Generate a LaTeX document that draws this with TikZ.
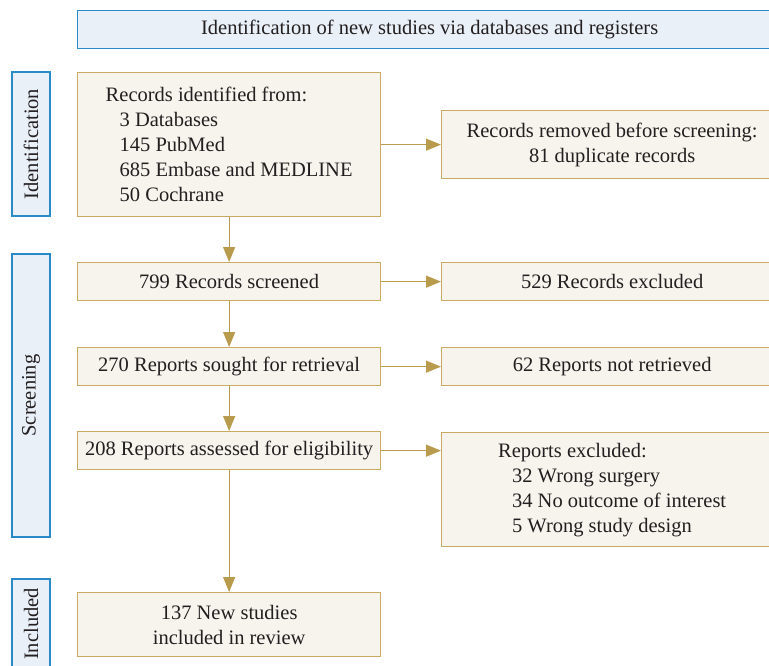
\documentclass[tikz,border=0pt]{standalone}
\usepackage{fontspec}
\setmainfont{Liberation Serif}
\usetikzlibrary{arrows.meta}
\definecolor{blueline}{HTML}{2A8AC8}
\definecolor{bluefill}{HTML}{E9F0F8}
\definecolor{goldline}{HTML}{C9AA62}
\definecolor{goldfill}{HTML}{F7F4EE}
\definecolor{arrowcol}{HTML}{B89B4C}
\definecolor{textcol}{HTML}{231F20}
\tikzset{
  stagebox/.style={draw=blueline, fill=bluefill, line width=1.3pt, inner sep=0pt, text=textcol, font=\fontsize{20.5}{24}\selectfont},
  stagetext/.style={inner sep=0pt, text=textcol, font=\fontsize{20.5}{24}\selectfont},
  flowbox/.style={draw=goldline, fill=goldfill, line width=1.3pt, inner sep=0pt, text=textcol, font=\fontsize{20.5}{25}\selectfont, align=center},
  flowarrow/.style={draw=arrowcol, line width=1.3pt, -{Triangle[length=15pt,width=12pt]}},
}
\begin{document}
\begin{tikzpicture}[x=1pt,y=-1pt]
\useasboundingbox (0,0) rectangle (769,666);
\clip (0,0) rectangle (769,666);
% header
\node[stagebox, minimum width=704, minimum height=38, anchor=north west] (hdr) at (77,10) {Identification of new studies via databases and registers};
% stage labels
\node[stagebox, minimum width=144, minimum height=38, rotate=90, anchor=center] (sid) at (31,144) {Identification};
\node[stagebox, minimum width=283, minimum height=38, rotate=90, anchor=center] (ssc) at (31,395.5) {Screening};
\node[stagebox, minimum width=130, minimum height=38, rotate=90, anchor=center] (sin) at (31,644) {};
\node[stagetext, rotate=90] (sint) at (31,624) {Included};
% left column
\node[flowbox, minimum width=303, minimum height=144, anchor=north west, align=left] (rec) at (77,72)
  {Records identified from:\\\hspace*{14pt}3 Databases\\\hspace*{14pt}145 PubMed\\\hspace*{14pt}685 Embase and MEDLINE\\\hspace*{14pt}50 Cochrane};
\node[flowbox, minimum width=303, minimum height=38, anchor=north west] (scr) at (77,262) {799 Records screened};
\node[flowbox, minimum width=303, minimum height=38, anchor=north west] (sou) at (77,347) {270 Reports sought for retrieval};
\node[flowbox, minimum width=303, minimum height=38, anchor=north west] (ass) at (77,431) {208 Reports assessed for eligibility};
\node[flowbox, minimum width=303, minimum height=64, anchor=north west] (inc) at (77,592) {137 New studies\\included in review};
% right column
\node[flowbox, minimum width=341, minimum height=68, anchor=north west] (rem) at (441,110) {Records removed before screening:\\81 duplicate records};
\node[flowbox, minimum width=341, minimum height=38, anchor=north west] (exc) at (441,262) {529 Records excluded};
\node[flowbox, minimum width=341, minimum height=38, anchor=north west] (nrt) at (441,347) {62 Reports not retrieved};
\node[flowbox, minimum width=341, minimum height=114, anchor=north west, align=left] (rex) at (441,432)
  {Reports excluded:\\\hspace*{14pt}32 Wrong surgery\\\hspace*{14pt}34 No outcome of interest\\\hspace*{14pt}5 Wrong study design};
% arrows
\draw[flowarrow] (rec.south) -- (scr.north);
\draw[flowarrow] (scr.south) -- (sou.north);
\draw[flowarrow] (sou.south) -- (ass.north);
\draw[flowarrow] (ass.south) -- (inc.north);
\draw[flowarrow] (rec.east) -- (rem.west);
\draw[flowarrow] (scr.east) -- (exc.west);
\draw[flowarrow] (sou.east) -- (nrt.west);
\draw[flowarrow] (ass.east) -- (ass.east -| rex.west);
\end{tikzpicture}
\end{document}
